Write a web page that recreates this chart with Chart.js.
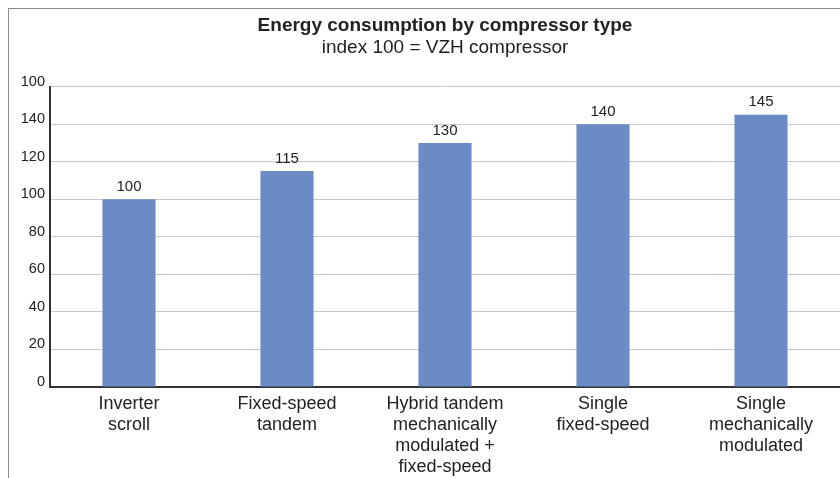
<!DOCTYPE html>
<html>
<head>
<meta charset="utf-8">
<script src="https://cdn.jsdelivr.net/npm/chart.js@4"></script>
<style>
    html, body { margin: 0; padding: 0; background: #ffffff; overflow: hidden; }
    #wrap { position: relative; width: 840px; height: 478px; overflow: hidden; }
    #frame { position: absolute; left: 8px; top: 8px; width: 900px; height: 600px; border: 1px solid #8c8c8c; }
    canvas { position: absolute; left: 0; top: 0; }
</style>
</head>
<body>
<div id="wrap">
    <div id="frame"></div>
    <canvas id="chart" width="840" height="484"></canvas>
</div>
<script>
// Chart data
const categories = [
    ['Inverter', 'scroll'],
    ['Fixed-speed', 'tandem'],
    ['Hybrid tandem', 'mechanically', 'modulated +', 'fixed-speed'],
    ['Single', 'fixed-speed'],
    ['Single', 'mechanically', 'modulated']
];
const indexValues = [100, 115, 130, 140, 145];
// tick labels as printed in the source (top one reads 100)
const yTickLabels = ['0', '20', '40', '60', '80', '100', '120', '140', '100'];

const BAR_COLOR = '#6b8bc7';
const TEXT_COLOR = '#222222';
const FONT_FAMILY = '"Liberation Sans", Arial, sans-serif';

// Value labels above bars
const barValueLabels = {
    id: 'barValueLabels',
    afterDatasetsDraw(chart) {
        const ctx = chart.ctx;
        const meta = chart.getDatasetMeta(0);
        ctx.save();
        ctx.font = '15px ' + FONT_FAMILY;
        ctx.fillStyle = TEXT_COLOR;
        ctx.textAlign = 'center';
        ctx.textBaseline = 'bottom';
        meta.data.forEach((bar, i) => {
            ctx.fillText(String(indexValues[i]), bar.x, bar.y - 5);
        });
        ctx.restore();
    }
};

const ctx = document.getElementById('chart').getContext('2d');
new Chart(ctx, {
    type: 'bar',
    data: {
        labels: categories,
        datasets: [{
            data: indexValues,
            backgroundColor: BAR_COLOR,
            borderWidth: 0,
            categoryPercentage: 1,
            barPercentage: 0.336
        }]
    },
    options: {
        responsive: false,
        animation: false,
        layout: {
            padding: { top: 14, right: 0, bottom: 0, left: 0 }
        },
        scales: {
            x: {
                grid: { display: false, drawTicks: false },
                border: { color: '#333333', width: 2 },
                ticks: {
                    color: TEXT_COLOR,
                    padding: 6,
                    maxRotation: 0,
                    autoSkip: false,
                    font: { size: 18, family: FONT_FAMILY, lineHeight: 1.18 }
                }
            },
            y: {
                min: 0,
                max: 160,
                afterFit(scale) { scale.width = 50; },
                grid: { color: '#c8c8c8', lineWidth: 1, drawTicks: false },
                border: { color: '#333333', width: 2 },
                ticks: {
                    stepSize: 20,
                    color: TEXT_COLOR,
                    padding: 5,
                    labelOffset: -5,
                    font: { size: 14.5, family: FONT_FAMILY },
                    callback: function(value, index) {
                        return yTickLabels[index];
                    }
                }
            }
        },
        plugins: {
            legend: { display: false },
            tooltip: { enabled: false },
            title: {
                display: true,
                fullSize: false,
                text: 'Energy consumption by compressor type',
                color: TEXT_COLOR,
                font: { size: 19, weight: 'bold', family: FONT_FAMILY },
                padding: { top: 0, bottom: 0 }
            },
            subtitle: {
                display: true,
                fullSize: false,
                text: 'index 100 = VZH compressor',
                color: TEXT_COLOR,
                font: { size: 19, family: FONT_FAMILY },
                padding: { top: 0, bottom: 27 }
            }
        }
    },
    plugins: [barValueLabels]
});
</script>
</body>
</html>
